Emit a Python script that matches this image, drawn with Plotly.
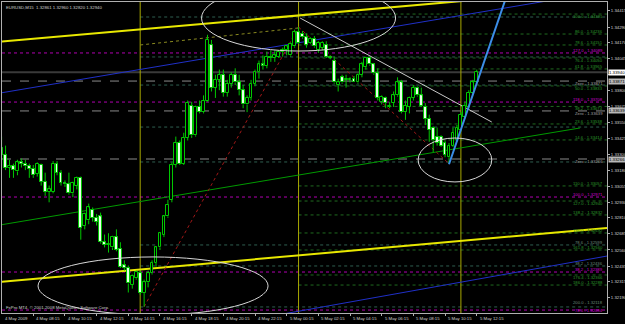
import plotly.graph_objects as go

# ---------------- data ----------------
bar_index = list(range(121))
opens = [1.3335,1.3330,1.3320,1.3321,1.3317,1.3324,1.3323,1.3321,1.3319,1.3315,
         1.3322,1.3309,1.3301,1.3301,1.3323,1.3316,1.3308,1.3307,1.3300,1.3306,
         1.3312,1.3275,1.3279,1.3287,1.3281,1.3282,1.3262,1.3260,1.3258,1.3266,
         1.3257,1.3244,1.3242,1.3229,1.3234,1.3238,1.3223,1.3231,1.3238,1.3246,
         1.3258,1.3268,1.3282,1.3295,1.3322,1.3339,1.3323,1.3343,1.3368,1.3345,
         1.3367,1.3363,1.3372,1.3415,1.3382,1.3388,1.3392,1.3378,1.3385,1.3392,
         1.3386,1.3380,1.3369,1.3374,1.3385,1.3394,1.3400,1.3399,1.3406,1.3405,
         1.3406,1.3410,1.3411,1.3407,1.3414,1.3425,1.3424,1.3421,1.3417,1.3420,
         1.3411,1.3413,1.3415,1.3406,1.3403,1.3384,1.3390,1.3388,1.3388,1.3389,
         1.3386,1.3392,1.3398,1.3405,1.3400,1.3393,1.3371,1.3374,1.3367,1.3370,
         1.3376,1.3386,1.3363,1.3367,1.3374,1.3382,1.3376,1.3367,1.3358,1.3351,
         1.3344,1.3344,1.3339,1.3328,1.3337,1.3341,1.3349,1.3359,1.3367,1.3378,
         1.3386]
highs = [1.3344,1.3337,1.3326,1.3323,1.3326,1.3327,1.3326,1.3323,1.3322,1.3324,
         1.3323,1.3316,1.3306,1.3325,1.3325,1.3318,1.3310,1.3316,1.3309,1.3313,
         1.3313,1.3285,1.3292,1.3289,1.3284,1.3285,1.3268,1.3269,1.3267,1.3272,
         1.3262,1.3248,1.3244,1.3237,1.3240,1.3240,1.3233,1.3240,1.3248,1.3259,
         1.3270,1.3283,1.3295,1.3324,1.3344,1.3341,1.3347,1.3372,1.3371,1.3368,
         1.3372,1.3376,1.3423,1.3419,1.3392,1.3396,1.3396,1.3388,1.3394,1.3397,
         1.3392,1.3384,1.3376,1.3388,1.3396,1.3403,1.3407,1.3410,1.3411,1.3411,
         1.3411,1.3413,1.3415,1.3417,1.3427,1.3429,1.3426,1.3424,1.3421,1.3422,
         1.3418,1.3418,1.3418,1.3407,1.3406,1.3389,1.3392,1.3392,1.3390,1.3391,
         1.3393,1.3402,1.3406,1.3406,1.3401,1.3397,1.3376,1.3375,1.3371,1.3379,
         1.3390,1.3388,1.3372,1.3375,1.3384,1.3383,1.3382,1.3370,1.3361,1.3352,
         1.3351,1.3345,1.3341,1.3339,1.3351,1.3353,1.3363,1.3371,1.3380,1.3388,
         1.3396]
lows = [1.3318,1.3318,1.3312,1.3312,1.3314,1.3320,1.3318,1.3312,1.3312,1.3313,
        1.3306,1.3298,1.3293,1.3300,1.3314,1.3306,1.3305,1.3299,1.3297,1.3303,
        1.3264,1.3272,1.3276,1.3278,1.3275,1.3261,1.3258,1.3254,1.3256,1.3255,
        1.3242,1.3240,1.3223,1.3226,1.3233,1.3221,1.3212,1.3227,1.3237,1.3243,
        1.3256,1.3266,1.3281,1.3293,1.3320,1.3322,1.3322,1.3341,1.3343,1.3344,
        1.3362,1.3362,1.3371,1.3379,1.3374,1.3380,1.3375,1.3375,1.3382,1.3384,
        1.3376,1.3366,1.3363,1.3372,1.3383,1.3389,1.3396,1.3397,1.3402,1.3402,
        1.3405,1.3406,1.3407,1.3406,1.3413,1.3416,1.3420,1.3413,1.3416,1.3413,
        1.3409,1.3411,1.3405,1.3404,1.3385,1.3379,1.3385,1.3382,1.3386,1.3386,
        1.3385,1.3390,1.3396,1.3399,1.3392,1.3372,1.3369,1.3366,1.3366,1.3367,
        1.3375,1.3362,1.3357,1.3362,1.3372,1.3375,1.3367,1.3353,1.3340,1.3332,
        1.3337,1.3336,1.3328,1.3323,1.3336,1.3340,1.3348,1.3358,1.3366,1.3376,
        1.3384]
closes = [1.3330,1.3320,1.3321,1.3318,1.3324,1.3323,1.3321,1.3319,1.3314,1.3323,
          1.3309,1.3301,1.3303,1.3323,1.3316,1.3308,1.3307,1.3300,1.3308,1.3312,
          1.3273,1.3284,1.3289,1.3281,1.3278,1.3262,1.3260,1.3261,1.3266,1.3256,
          1.3243,1.3242,1.3230,1.3236,1.3239,1.3223,1.3231,1.3238,1.3246,1.3258,
          1.3269,1.3282,1.3291,1.3322,1.3339,1.3323,1.3343,1.3370,1.3345,1.3367,
          1.3363,1.3372,1.3419,1.3382,1.3388,1.3392,1.3378,1.3385,1.3392,1.3386,
          1.3380,1.3369,1.3374,1.3385,1.3394,1.3400,1.3399,1.3406,1.3405,1.3407,
          1.3410,1.3411,1.3414,1.3416,1.3425,1.3417,1.3421,1.3415,1.3420,1.3414,
          1.3417,1.3417,1.3406,1.3405,1.3386,1.3386,1.3386,1.3389,1.3389,1.3386,
          1.3392,1.3400,1.3405,1.3400,1.3393,1.3374,1.3375,1.3370,1.3368,1.3376,
          1.3386,1.3363,1.3368,1.3374,1.3382,1.3376,1.3368,1.3358,1.3349,1.3341,
          1.3339,1.3337,1.3330,1.3337,1.3347,1.3351,1.3361,1.3368,1.3378,1.3386,
          1.3394]

time_tick_bars = [0, 8, 16, 24, 32, 40, 48, 56, 64, 72, 80, 88, 96, 104, 112, 120]
time_tick_text = ["4 May 2009", "4 May 08:15", "4 May 10:15", "4 May 12:15",
                  "4 May 14:15", "4 May 16:15", "4 May 18:15", "4 May 20:15",
                  "4 May 22:15", "5 May 00:15", "5 May 02:15", "5 May 04:15",
                  "5 May 06:15", "5 May 08:15", "5 May 10:15", "5 May 12:15"]
price_ticks = [1.34415, 1.34290, 1.34170, 1.34045, 1.33920, 1.33800, 1.33675,
               1.33550, 1.33425, 1.33300, 1.33180, 1.33055, 1.32930, 1.32810,
               1.32685, 1.32560, 1.32435, 1.32315, 1.32190, 1.32065]

title_text = "EURUSD,M15  1.32861 1.32960 1.32820 1.32940"
copyright_text = "FxPro MT4, \u00a9 2001-2008 MetaQuotes Software Corp."

# horizontal objects
magenta_prices = [1.34089, 1.33708, 1.32971, 1.32389, 1.32094]
magenta_levels = ["127.0", "118.0", "100.0", "38.2", "78.6"]
dashed_prices = [1.33871, 1.33639, 1.33266]
fibA_start = 35
fibA_prices = [1.34368, 1.34058, 1.33840, 1.33514, 1.33243, 1.32599, 1.32436, 1.32118]
fibA_levels = ["", "", "", "", "", "78.6", "38.2", "200.0"]
fibB_start = 75
fibB_prices = [1.34391, 1.34236, 1.34151, 1.34050, 1.33965, 1.33833, 1.33674,
               1.33538, 1.33414]
fibB_levels = ["100.0", "86.0", "78.6", "76.4", "61.8", "50.0", "38.2", "23.6", "14.6"]
fibC_start = 75
fibC_prices = [1.33057, 1.32940, 1.32832, 1.32692, 1.32560, 1.32366, 1.32288]
fibC_levels = ["110.0", "127.0", "138.2", "150.0", "161.8", "176.4", "186.0"]

vline_bars = [35, 75, 116]

# sloped objects: (bar, price) endpoints
upper_yellow = ([-0.4, 152.9], [1.34176, 1.34591])
lower_yellow = ([-0.4, 152.9], [1.32312, 1.32731])
green_line = ([-0.4, 146.1], [1.32754, 1.33507])
blue_upper = ([-0.4, 152.9], [1.33778, 1.34571])
blue_lower = ([70.3, 152.9], [1.32059, 1.32513])
gray_trend = ([75.4, 123.8], [1.34360, 1.33553])
red_up = ([36, 75], [1.3212, 1.3429])
red_down = ([75, 113], [1.3429, 1.3323])
light_blue = ([113, 127.2], [1.33225, 1.34500])
olive_dotted = ([35, 75], [1.34151, 1.34283])

# ellipses: bars x0,x1 and prices y0,y1
ellipse_top = ([50.5, 99.5], [1.34616, 1.34104])
ellipse_low = ([9.2, 67.3], [1.32506, 1.32056])
ellipse_small = ([105.2, 123.8], [1.33429, 1.33088])

# ---------------- figure ----------------
X0, X1 = 0.1, 152.9
Y0, Y1 = 1.32071, 1.344845
GREEN = "#00c800"

fig = go.Figure()

shapes = []
def hline(x0, price, color, dash, width=1):
    shapes.append(dict(type="line", xref="x", yref="y", x0=x0, x1=X1, y0=price, y1=price,
                       line=dict(color=color, dash=dash, width=width), layer="below"))

for p in magenta_prices:
    hline(X0, p, "#b000b0", "dot")
for p in dashed_prices:
    hline(X0, p, "#8a8a8a", "dash")
for p in fibA_prices:
    hline(fibA_start, p, "#2f5f50", "dot")
for p in fibB_prices:
    hline(fibB_start, p, "#1f6a1f", "dot")
for p in fibC_prices:
    hline(fibC_start, p, "#1f6a1f", "dot")
# bid line
hline(X0, closes[-1], "#3a3a3a", "solid", 2)

for b in vline_bars:
    shapes.append(dict(type="line", xref="x", yref="y", x0=b, x1=b, y0=Y0, y1=Y1,
                       line=dict(color="#a8a800", width=1), layer="below"))

def seg(pts, color, width=1, dash="solid"):
    xs, ys = pts
    shapes.append(dict(type="line", xref="x", yref="y", x0=xs[0], x1=xs[1], y0=ys[0], y1=ys[1],
                       line=dict(color=color, width=width, dash=dash), layer="below"))

seg(upper_yellow, "#e8e800", 2)
seg(lower_yellow, "#e8e800", 2)
seg(green_line, "#009a00", 1)
seg(blue_upper, "#2030c8", 1)
seg(blue_lower, "#2030c8", 1)
seg(gray_trend, "#c8c8c8", 1)
seg(red_up, "#a01818", 1, "dot")
seg(red_down, "#a01818", 1, "dot")
seg(olive_dotted, "#8a8a20", 1, "dot")

for e in (ellipse_top, ellipse_low, ellipse_small):
    xs, ys = e
    shapes.append(dict(type="circle", xref="x", yref="y", x0=xs[0], x1=xs[1], y0=ys[0], y1=ys[1],
                       line=dict(color="#d8d8d8", width=1), layer="above"))

fig.update_layout(shapes=shapes)

# candles: wicks (split above / below body)
wx, wy = [], []
for i, o, h, l, c in zip(bar_index, opens, highs, lows, closes):
    top, bot = max(o, c), min(o, c)
    wx += [i, i, None, i, i, None]
    wy += [h, top, None, bot, l, None]
fig.add_trace(go.Scatter(x=wx, y=wy, mode="lines", line=dict(color=GREEN, width=1),
                         hoverinfo="skip", showlegend=False))

body_base = [min(o, c) for o, c in zip(opens, closes)]
body_h = [max(abs(c - o), 0.00004) for o, c in zip(opens, closes)]
body_fill = ["#000000" if c >= o else "#e8ffe8" for o, c in zip(opens, closes)]
fig.add_trace(go.Bar(x=bar_index, y=body_h, base=body_base, width=0.72,
                     marker=dict(color=body_fill, line=dict(color=GREEN, width=1)),
                     hoverinfo="skip", showlegend=False))

# light blue thick line on top
fig.add_trace(go.Scatter(x=light_blue[0], y=light_blue[1], mode="lines",
                         line=dict(color="#3c8ee8", width=2), hoverinfo="skip", showlegend=False))

ann = []
# pixel offsets of the level captions relative to their line (up = positive)
def label(price, text, color, shift):
    if text:
        ann.append(dict(xref="paper", yref="y", x=0.997, y=price, text=text, showarrow=False,
                        xanchor="right", yanchor="middle", yshift=shift,
                        font=dict(size=4.2, color=color, family="Liberation Sans")))

ABOVE, BELOW = 2.5, -2.5
magenta_pos = [ABOVE, ABOVE, ABOVE, ABOVE, -0.5]
dashed_pos = [BELOW, BELOW, BELOW]
fibA_pos = [ABOVE, ABOVE, ABOVE, ABOVE, ABOVE, ABOVE, ABOVE, 4.5]
fibB_pos = [BELOW, ABOVE, ABOVE, BELOW, ABOVE, BELOW, BELOW, ABOVE, ABOVE]
fibC_pos = [ABOVE, BELOW, ABOVE, ABOVE, ABOVE, BELOW, ABOVE]

for p, t, s in zip(magenta_prices, magenta_levels, magenta_pos):
    label(p, f"{t} - {p:.5f}", "#d000d0", s)
for p, s in zip(dashed_prices, dashed_pos):
    label(p, f"Zero - {p:.5f}", "#a0a0a0", s)
for p, t, s in zip(fibA_prices, fibA_levels, fibA_pos):
    label(p, f"{t} - {p:.5f}" if t else "", "#6a8a7a", s)
for p, t, s in zip(fibB_prices, fibB_levels, fibB_pos):
    label(p, f"{t} - {p:.5f}", "#2a9a2a", s)
for p, t, s in zip(fibC_prices, fibC_levels, fibC_pos):
    label(p, f"{t} - {p:.5f}", "#2a9a2a", s)

# time labels (left aligned at tick, like MT4)
for b, t in zip(time_tick_bars, time_tick_text):
    ann.append(dict(xref="x", yref="paper", x=max(b, X0 + 0.05), y=0, text=t, showarrow=False,
                    xanchor="left", yanchor="top", yshift=-1, xshift=1,
                    font=dict(size=4.3, color="#d0d0d0", family="Liberation Sans")))

# highlighted price boxes on axis (they cover the scale label underneath, as in MT4)
box_prices = [closes[-1]] + dashed_prices
box_colors = ["#ffffff", "#b8b8b8", "#b8b8b8", "#b8b8b8"]
for p, bg in zip(box_prices, box_colors):
    ann.append(dict(xref="paper", yref="y", x=1.0, y=p, text=f"{p:.5f}", showarrow=False,
                    xanchor="left", yanchor="middle", xshift=1, bgcolor=bg, borderpad=0,
                    font=dict(size=4.3, color="#000000", family="Liberation Sans")))
tick_text = ["" if any(abs(p - b) < 0.00025 for b in box_prices) else f"{p:.5f}"
             for p in price_ticks]

ann.append(dict(xref="paper", yref="paper", x=0.003, y=1.0, text=title_text, showarrow=False,
                xanchor="left", yanchor="top", yshift=-1,
                font=dict(size=4.3, color="#d0d0d0", family="Liberation Sans")))
ann.append(dict(xref="paper", yref="paper", x=0.003, y=0.0, text=copyright_text, showarrow=False,
                xanchor="left", yanchor="bottom", yshift=1,
                font=dict(size=4.3, color="#d0d0d0", family="Liberation Sans")))

fig.update_layout(
    annotations=ann,
    width=625, height=324,
    margin=dict(l=2, r=18, t=2, b=11, autoexpand=False),
    paper_bgcolor="#000000", plot_bgcolor="#000000",
    barmode="overlay", bargap=0, showlegend=False,
    xaxis=dict(range=[X0, X1], showgrid=False, zeroline=False, tickvals=time_tick_bars,
               showticklabels=False, ticks="outside", ticklen=2, tickcolor="#b0b0b0",
               showline=True, linecolor="#b0b0b0", mirror=True, linewidth=1, fixedrange=True),
    yaxis=dict(range=[Y0, Y1], side="right", showgrid=False, zeroline=False,
               tickvals=price_ticks, ticktext=tick_text,
               ticks="outside", ticklen=2, tickcolor="#b0b0b0",
               tickfont=dict(size=4.3, color="#d0d0d0", family="Liberation Sans"),
               showline=True, linecolor="#b0b0b0", mirror=True, linewidth=1,
               automargin=False, fixedrange=True),
)

fig.write_html("out.html")
